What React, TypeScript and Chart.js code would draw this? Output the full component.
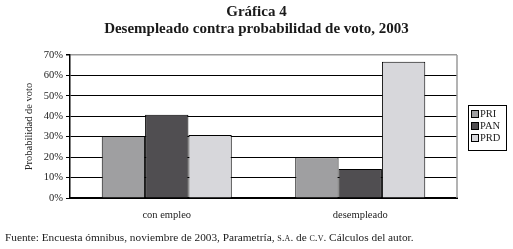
import React, { useEffect, useRef } from "react";
import { Chart, registerables } from "chart.js";

Chart.register(...registerables);

const categories = ["con empleo", "desempleado"];
const seriesNames = ["PRI", "PAN", "PRD"];
const priValues = [30.4, 20.0];
const panValues = [40.7, 14.2];
const prdValues = [30.9, 66.7];
const seriesColors = ["#9f9fa1", "#504e51", "#d7d7db"];
const yTicks = [0, 10, 20, 30, 40, 50, 60, 70];

const SERIF = "'Liberation Serif', 'DejaVu Serif', serif";

const legendPlugin = {
  id: "boxLegend",
  afterDraw(chart: any) {
    const { ctx, chartArea } = chart;
    ctx.save();
    ctx.strokeStyle = "#9a9a9a";
    ctx.lineWidth = 1.5;
    ctx.beginPath();
    ctx.moveTo(chartArea.right, chartArea.top);
    ctx.lineTo(chartArea.right, chartArea.bottom);
    ctx.stroke();
    const bx = 468.5, by = 105.5, bw = 38, bh = 45;
    ctx.strokeStyle = "#000";
    ctx.lineWidth = 1;
    ctx.strokeRect(bx, by, bw, bh);
    ctx.font = `10.5px ${SERIF}`;
    ctx.textBaseline = "middle";
    ctx.textAlign = "left";
    chart.data.datasets.forEach((ds: any, i: number) => {
      const cy = 114 + i * 12;
      ctx.fillStyle = ds.backgroundColor;
      ctx.fillRect(471.5, cy - 3.5, 7, 7);
      ctx.strokeStyle = "#000";
      ctx.lineWidth = 1;
      ctx.strokeRect(471.5, cy - 3.5, 7, 7);
      ctx.fillStyle = "#222";
      ctx.fillText(ds.label, 480, cy + 0.5);
    });
    ctx.restore();
  },
};

export default function App() {
  const ref = useRef<HTMLCanvasElement>(null);

  useEffect(() => {
    if (!ref.current) return;
    const values = [priValues, panValues, prdValues];
    const chart = new Chart(ref.current, {
      type: "bar",
      data: {
        labels: categories,
        datasets: seriesNames.map((name, i) => ({
          label: name,
          data: values[i],
          backgroundColor: seriesColors[i],
          borderColor: "#000",
          borderWidth: 1,
          categoryPercentage: 0.672,
          barPercentage: 1,
        })),
      },
      options: {
        animation: false,
        responsive: false,
        maintainAspectRatio: false,
        layout: { padding: { left: 23, top: 55, right: 56, bottom: 0 } },
        plugins: {
          legend: { display: false },
          tooltip: { enabled: false },
        },
        scales: {
          x: {
            grid: { display: false, drawTicks: false },
            border: { color: "#000", width: 2 },
            ticks: {
              padding: 11,
              color: "#222",
              font: { family: SERIF, size: 10.5 },
            },
            afterFit(scale: any) {
              scale.height = 51;
            },
          },
          y: {
            min: 0,
            max: 70,
            afterBuildTicks(scale: any) {
              scale.ticks = yTicks.map((v) => ({ value: v }));
            },
            grid: {
              color: (c: any) => (c.tick && c.tick.value === 70 ? "#9a9a9a" : "#000"),
              lineWidth: (c: any) => (c.tick && c.tick.value === 70 ? 1.5 : 1),
              tickLength: 4,
              tickColor: "#000",
            },
            border: { color: "#000", width: 1.5 },
            ticks: {
              padding: 3,
              color: "#222",
              font: { family: SERIF, size: 10.5 },
              callback: (v: any) => `${v}%`,
            },
            title: {
              display: true,
              text: "Probabilidad de voto",
              color: "#222",
              font: { family: SERIF, size: 10.5 },
              padding: { top: 0, bottom: 0 },
            },
            afterFit(scale: any) {
              scale.width = 47;
            },
          },
        },
      },
      plugins: [legendPlugin],
    });
    return () => chart.destroy();
  }, []);

  return (
    <div
      style={{
        position: "absolute",
        left: 0,
        top: 0,
        width: 513,
        height: 249,
        background: "#fff",
        fontFamily: SERIF,
        color: "#1a1a1a",
        overflow: "hidden",
      }}
    >
      <canvas ref={ref} width={513} height={249} style={{ position: "absolute", left: 0, top: 0 }} />
      <div
        style={{
          position: "absolute",
          left: 0,
          width: 513,
          top: 3,
          textAlign: "center",
          fontWeight: "bold",
          fontSize: 15,
          lineHeight: "17px",
        }}
      >
        <div>Gráfica 4</div>
        <div>Desempleado contra probabilidad de voto, 2003</div>
      </div>
      <div
        style={{
          position: "absolute",
          left: 5,
          top: 231,
          fontSize: 11.3,
          lineHeight: "13px",
          whiteSpace: "nowrap",
        }}
      >
        Fuente: Encuesta ómnibus, noviembre de 2003, Parametría,{" "}
        <span style={{ fontVariant: "small-caps" }}>s.a.</span> de{" "}
        <span style={{ fontVariant: "small-caps" }}>c.v.</span> Cálculos del autor.
      </div>
    </div>
  );
}
